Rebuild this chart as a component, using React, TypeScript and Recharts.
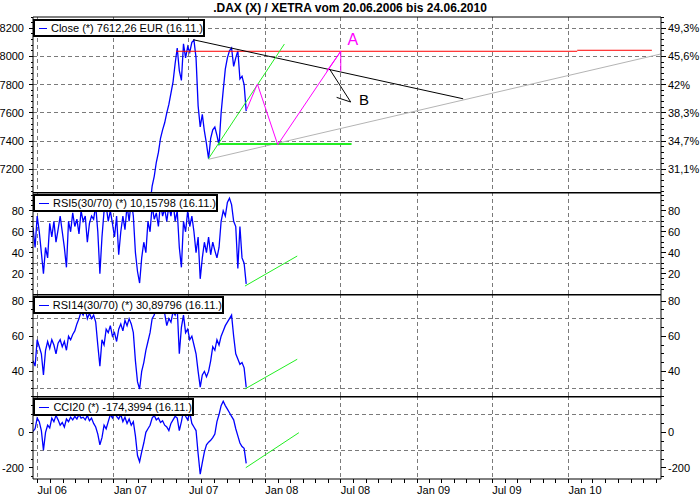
import React from "react";
import {
  LineChart,
  Line,
  XAxis,
  YAxis,
  CartesianGrid,
  ReferenceLine,
  ReferenceDot,
} from "recharts";

const FONT = "'Liberation Sans', Arial, sans-serif";
const DAY = 86400000;
const START = Date.UTC(2006, 5, 20);
const LAST = Date.UTC(2007, 10, 16);
const X_MAX = 1514; // days from start to the right edge of the plot

const TITLE = ".DAX (X) / XETRA vom 20.06.2006 bis 24.06.2010";
const X_LABELS = ["Jul 06", "Jan 07", "Jul 07", "Jan 08", "Jul 08", "Jan 09", "Jul 09", "Jan 10"];

// daily closes, sampled every ~5 days from 20.06.2006 to 16.11.2007
const CLOSE = [
  5600, 5650, 5700, 5640, 5560, 5500, 5520, 5600, 5680, 5730,
  5800, 5860, 5880, 5900, 5850, 5950, 6000, 6020, 6080, 6120,
  6180, 6200, 6260, 6230, 6290, 6310, 6260, 6330, 6380, 6400,
  6420, 6380, 6330, 6450, 6500, 6570, 6550, 6600, 6650, 6620,
  6700, 6680, 6760, 6820, 6870, 6900, 6950, 6920, 6900, 6750,
  6550, 6450, 6600, 6750, 6870, 6930, 6960, 7080, 7150, 7250,
  7320, 7420, 7480, 7530, 7600, 7660, 7740, 7820, 7950, 8060,
  7900, 7830, 8090, 7990, 8070, 8030, 8100, 8115, 7990, 7650,
  7500, 7590, 7470, 7380, 7275, 7420, 7480, 7500, 7440, 7370,
  7600, 7760, 7910, 7990, 8040, 8060, 7930, 7990, 8040, 7840,
  7860, 7800, 7612.26,
];

const RSI5 = [
  64, 45, 75, 60, 40, 20, 45, 35, 68, 55,
  70, 50, 62, 75, 60, 45, 26, 70, 60, 78,
  65, 72, 58, 80, 70, 75, 50, 68, 75, 72,
  85, 60, 20, 55, 80, 85, 70, 80, 68, 55,
  75, 38, 60, 75, 62, 85, 70, 90, 75, 40,
  22, 11, 35, 50, 40, 70, 60, 85, 72, 78,
  65, 88, 75, 82, 70, 85, 75, 90, 70, 80,
  45, 26, 70, 60, 80, 65, 75, 60, 40, 55,
  15, 35, 50, 40, 55, 38, 50, 42, 35, 45,
  70, 80, 75, 88, 92, 86, 70, 65, 25, 65,
  35, 30, 10.16,
];

const RSI14 = [
  46, 43, 58, 54, 50, 38, 52, 57, 53, 58,
  55, 50, 56, 58, 54, 57, 52, 60, 58, 61,
  63, 67, 70, 74, 72, 76, 70, 73, 70, 72,
  68, 55, 43, 58, 55, 64, 62, 66, 60, 62,
  57, 64, 67, 63, 69, 66, 70, 67, 62, 46,
  34, 30, 40, 45, 52, 57, 62, 70, 72, 76,
  74, 80, 76, 73, 66, 70, 68, 74, 72, 76,
  50, 65, 72, 62, 64, 58, 60, 55, 50, 40,
  31, 38, 40, 37, 40, 46, 54, 52, 58, 55,
  60, 63, 66, 68, 70, 72, 60, 50, 47, 44,
  45, 42, 30.9,
];

const CCI20 = [
  5, 20, 80, 60, 10, -100, 0, 40, 25, 80,
  60, 95, 70, 40, 55, 30, 75, 60, 85, 70,
  90, 75, 100, 80, 85, 70, 95, 65, 80, 50,
  30, -10, -70, -30, 40, 20, 60, 100, 80, 110,
  90, 75, 100, 60, 85, 50, 75, 40, 60, -20,
  -130, -165, -110, -60, 0, 20, 40, 80, 95, 70,
  80, 55, 65, 40, 30, 10, 50, 70, 90, 80,
  10, 60, 120, 90, 70, 110, 50, 30, 10, -120,
  -235, -170, -110, -70, -55, -45, -30, -10, 60, 100,
  150, 175, 150, 130, 110, 90, 70, 20, -20, -60,
  -80, -90, -174.4,
];

const LEGENDS = [
  "Close (*) 7612,26 EUR (16.11.)",
  "RSI5(30/70) (*) 10,15798 (16.11.)",
  "RSI14(30/70) (*) 30,89796 (16.11.)",
  "CCI20 (*) -174,3994 (16.11.)",
];

const PRICE_TICKS = [7200, 7400, 7600, 7800, 8000, 8200];
const PRICE_PCT = ["31,1%", "34,7%", "38,3%", "42%", "45,6%", "49,3%"];
const RSI5_TICKS = [20, 40, 60, 80];
const RSI14_TICKS = [40, 60, 80];
const CCI_TICKS = [-200, 0];

// drawn trend lines (day, value)
const RESISTANCE = [{ x: 386, y: 8119 }, { x: 1037, y: 7700 }];
const RED_1 = [{ x: 345, y: 8037 }, { x: 1312, y: 8037 }];
const RED_2 = [{ x: 1312, y: 8044 }, { x: 1492, y: 8044 }];
const GREY_SUPPORT = [{ x: 423, y: 7271 }, { x: 1514, y: 8018 }];
const GREEN_UP = [{ x: 423, y: 7275 }, { x: 606, y: 8088 }];
const GREEN_FLAT = [{ x: 447, y: 7379 }, { x: 768, y: 7379 }];
const WAVE = [
  { x: 515, y: 7623 },
  { x: 541, y: 7805 },
  { x: 590, y: 7374 },
  { x: 742, y: 8037 },
];
const WAVE_EXTRA = [
  [{ x: 708, y: 7895 }, { x: 742, y: 8037 }],
  [{ x: 742, y: 8037 }, { x: 742, y: 7895 }],
];
const ARROW_B = [
  [{ x: 716, y: 7906 }, { x: 766, y: 7677 }],
  [{ x: 732, y: 7710 }, { x: 766, y: 7677 }],
];
const RSI5_TREND = [{ x: 511, y: 8.1 }, { x: 637, y: 36.8 }];
const RSI14_TREND = [{ x: 511, y: 30 }, { x: 637, y: 46.9 }];
const CCI_TREND = [{ x: 513, y: -198.6 }, { x: 641, y: -2 }];

const SPAN = (LAST - START) / DAY;
const rows = CLOSE.map((c, i) => ({
  d: (i * SPAN) / (CLOSE.length - 1),
  close: c,
  rsi5: RSI5[i],
  rsi14: RSI14[i],
  cci: CCI20[i],
}));

// month ticks along the bottom axis
const MONTHS: number[] = [];
const MONTH_LABEL: Record<number, string> = {};
for (let m = 0; ; m++) {
  const d = (Date.UTC(2006, 6 + m, 1) - START) / DAY;
  if (d > X_MAX) break;
  MONTHS.push(d);
  if (m % 6 === 0 && X_LABELS[m / 6]) MONTH_LABEL[d] = X_LABELS[m / 6];
}
const GRID_X = Object.keys(MONTH_LABEL).map(Number);

const steps = (from: number, to: number, step: number) => {
  const out: number[] = [];
  for (let v = from; v <= to; v += step) out.push(v);
  return out;
};

const GRID = "#7a7a7a";
const GREEN = "#22ee22";

const leftTick = (majors: number[]) => (p: any) => {
  const v = p.payload.value;
  const major = majors.includes(v);
  return (
    <g shapeRendering="crispEdges">
      <line x1={p.x - (major ? 4 : 2)} x2={p.x} y1={p.y} y2={p.y} stroke="#000" />
      {major && (
        <text x={p.x - 9} y={p.y + 4} textAnchor="end" fontSize={11} fontFamily={FONT} fill="#000">
          {v}
        </text>
      )}
    </g>
  );
};

const rightTick = (majors: number[], fmt: (v: number) => string) => (p: any) => {
  const v = p.payload.value;
  const major = majors.includes(v);
  return (
    <g shapeRendering="crispEdges">
      <line x1={p.x} x2={p.x + (major ? 5 : 3)} y1={p.y} y2={p.y} stroke="#000" />
      {major && (
        <text x={p.x + 7} y={p.y + 4} textAnchor="start" fontSize={11} fontFamily={FONT} fill="#000">
          {fmt(v)}
        </text>
      )}
    </g>
  );
};

const xTick = (p: any) => {
  const label = MONTH_LABEL[p.payload.value];
  return (
    <g shapeRendering="crispEdges">
      <line x1={p.x} x2={p.x} y1={p.y} y2={p.y + 4} stroke="#000" />
      {label && (
        <text x={p.x} y={p.y + 15} textAnchor="start" fontSize={11} fontFamily={FONT} fill="#000">
          {label}
        </text>
      )}
    </g>
  );
};

function Tag({ top, width, text }: { top: number; width: number; text: string }) {
  return (
    <div
      style={{
        position: "absolute",
        left: 33,
        top,
        width,
        height: 18,
        boxSizing: "border-box",
        border: "2px solid #000",
        background: "#fff",
        fontFamily: FONT,
        fontSize: 11,
        display: "flex",
        alignItems: "center",
        whiteSpace: "nowrap",
      }}
    >
      <span style={{ display: "inline-block", width: 12, height: 1, background: "#0000ff", margin: "0 4px" }} />
      {text}
    </div>
  );
}

interface PanelProps {
  top: number;
  height: number;
  marginTop?: number;
  domain: [number, number];
  minor: number[];
  majors: number[];
  rightFmt?: (v: number) => string;
  gridY: number[];
  dataKey: string;
  thickTop: boolean;
  showX?: boolean;
  children?: React.ReactNode;
}

function Panel({ top, height, marginTop = 0, domain, minor, majors, rightFmt, gridY, dataKey, thickTop, showX, children }: PanelProps) {
  return (
    <div style={{ position: "absolute", left: 0, top }}>
      <LineChart width={700} height={height} data={rows} margin={{ top: marginTop, right: 0, bottom: 0, left: 0 }}>
        <CartesianGrid
          stroke={GRID}
          strokeDasharray="4 3"
          shapeRendering="crispEdges"
          horizontalValues={gridY}
          verticalValues={GRID_X}
        />
        {showX ? (
          <XAxis
            type="number"
            dataKey="d"
            domain={[0, X_MAX]}
            allowDataOverflow
            ticks={MONTHS}
            interval={0}
            height={21}
            tickLine={false}
            tickSize={0}
            tickMargin={0}
            tick={xTick}
            axisLine={{ stroke: "#000" }}
          />
        ) : (
          <XAxis type="number" dataKey="d" domain={[0, X_MAX]} allowDataOverflow hide />
        )}
        <YAxis
          type="number"
          domain={domain}
          allowDataOverflow
          width={33}
          ticks={minor}
          interval={0}
          tickLine={false}
          tickSize={0}
          tickMargin={0}
          tick={leftTick(majors)}
          axisLine={{ stroke: "#000" }}
        />
        <YAxis
          yAxisId="r"
          orientation="right"
          type="number"
          domain={domain}
          allowDataOverflow
          width={39}
          ticks={minor}
          interval={0}
          tickLine={false}
          tickSize={0}
          tickMargin={0}
          tick={rightTick(majors, rightFmt || ((v) => String(v)))}
          axisLine={{ stroke: "#000" }}
        />
        <Line
          type="linear"
          dataKey={dataKey}
          stroke="#0000ff"
          strokeWidth={1.3}
          dot={false}
          activeDot={false}
          isAnimationActive={false}
        />
        {children}
        <ReferenceLine y={domain[1]} stroke="#000" strokeWidth={thickTop ? 3 : 1} ifOverflow="visible" />
      </LineChart>
    </div>
  );
}

export default function App() {
  const seg = (pts: { x: number; y: number }[], stroke: string, w = 1, key?: string) => (
    <ReferenceLine key={key} segment={pts} stroke={stroke} strokeWidth={w} ifOverflow="visible" />
  );
  return (
    <div style={{ position: "absolute", left: 0, top: 0, width: 700, height: 500, background: "#fff" }}>
      <Panel
        top={0}
        height={192}
        marginTop={17}
        domain={[7039, 8280]}
        minor={steps(7040, 8280, 40)}
        majors={PRICE_TICKS}
        rightFmt={(v) => PRICE_PCT[PRICE_TICKS.indexOf(v)]}
        gridY={PRICE_TICKS}
        dataKey="close"
        thickTop={false}
      >
        {seg(GREY_SUPPORT, "#b4b4b4")}
        {seg(RED_1, "#ff0000")}
        {seg(RED_2, "#ff0000")}
        {seg(RESISTANCE, "#000")}
        {seg(GREEN_UP, GREEN)}
        {seg(GREEN_FLAT, GREEN, 2)}
        {WAVE.slice(1).map((p, i) => seg([WAVE[i], p], "#ff00ff", 1, "w" + i))}
        {WAVE_EXTRA.map((s, i) => seg(s, "#ff00ff", 1, "we" + i))}
        {ARROW_B.map((s, i) => seg(s, "#000", 1, "b" + i))}
        <ReferenceDot
          x={771}
          y={8124}
          r={0}
          ifOverflow="visible"
          label={{ value: "A", position: "center", fill: "#ff00ff", fontSize: 16, fontFamily: FONT }}
        />
        <ReferenceDot
          x={798}
          y={7691}
          r={0}
          ifOverflow="visible"
          label={{ value: "B", position: "center", fill: "#000", fontSize: 15, fontFamily: FONT }}
        />
      </Panel>
      <Panel
        top={192}
        height={102}
        domain={[0.5, 98]}
        minor={steps(5, 95, 5)}
        majors={RSI5_TICKS}
        gridY={[30, 70]}
        dataKey="rsi5"
        thickTop
      >
        {seg(RSI5_TREND, GREEN)}
      </Panel>
      <Panel
        top={294}
        height={102}
        domain={[26, 84]}
        minor={steps(30, 80, 5)}
        majors={RSI14_TICKS}
        gridY={[30, 70]}
        dataKey="rsi14"
        thickTop
      >
        {seg(RSI14_TREND, GREEN)}
      </Panel>
      <Panel
        top={396}
        height={104}
        domain={[-262, 204]}
        minor={steps(-250, 200, 50)}
        majors={CCI_TICKS}
        gridY={[-100, 100]}
        dataKey="cci"
        thickTop
        showX
      >
        {seg(CCI_TREND, GREEN)}
      </Panel>
      <div
        style={{
          position: "absolute",
          top: 1,
          left: 0,
          width: 700,
          textAlign: "center",
          fontFamily: FONT,
          fontWeight: "bold",
          fontSize: 12,
          lineHeight: "14px",
        }}
      >
        {TITLE}
      </div>
      <Tag top={19} width={172} text={LEGENDS[0]} />
      <Tag top={194} width={185} text={LEGENDS[1]} />
      <Tag top={296} width={191} text={LEGENDS[2]} />
      <Tag top={398} width={161} text={LEGENDS[3]} />
    </div>
  );
}
